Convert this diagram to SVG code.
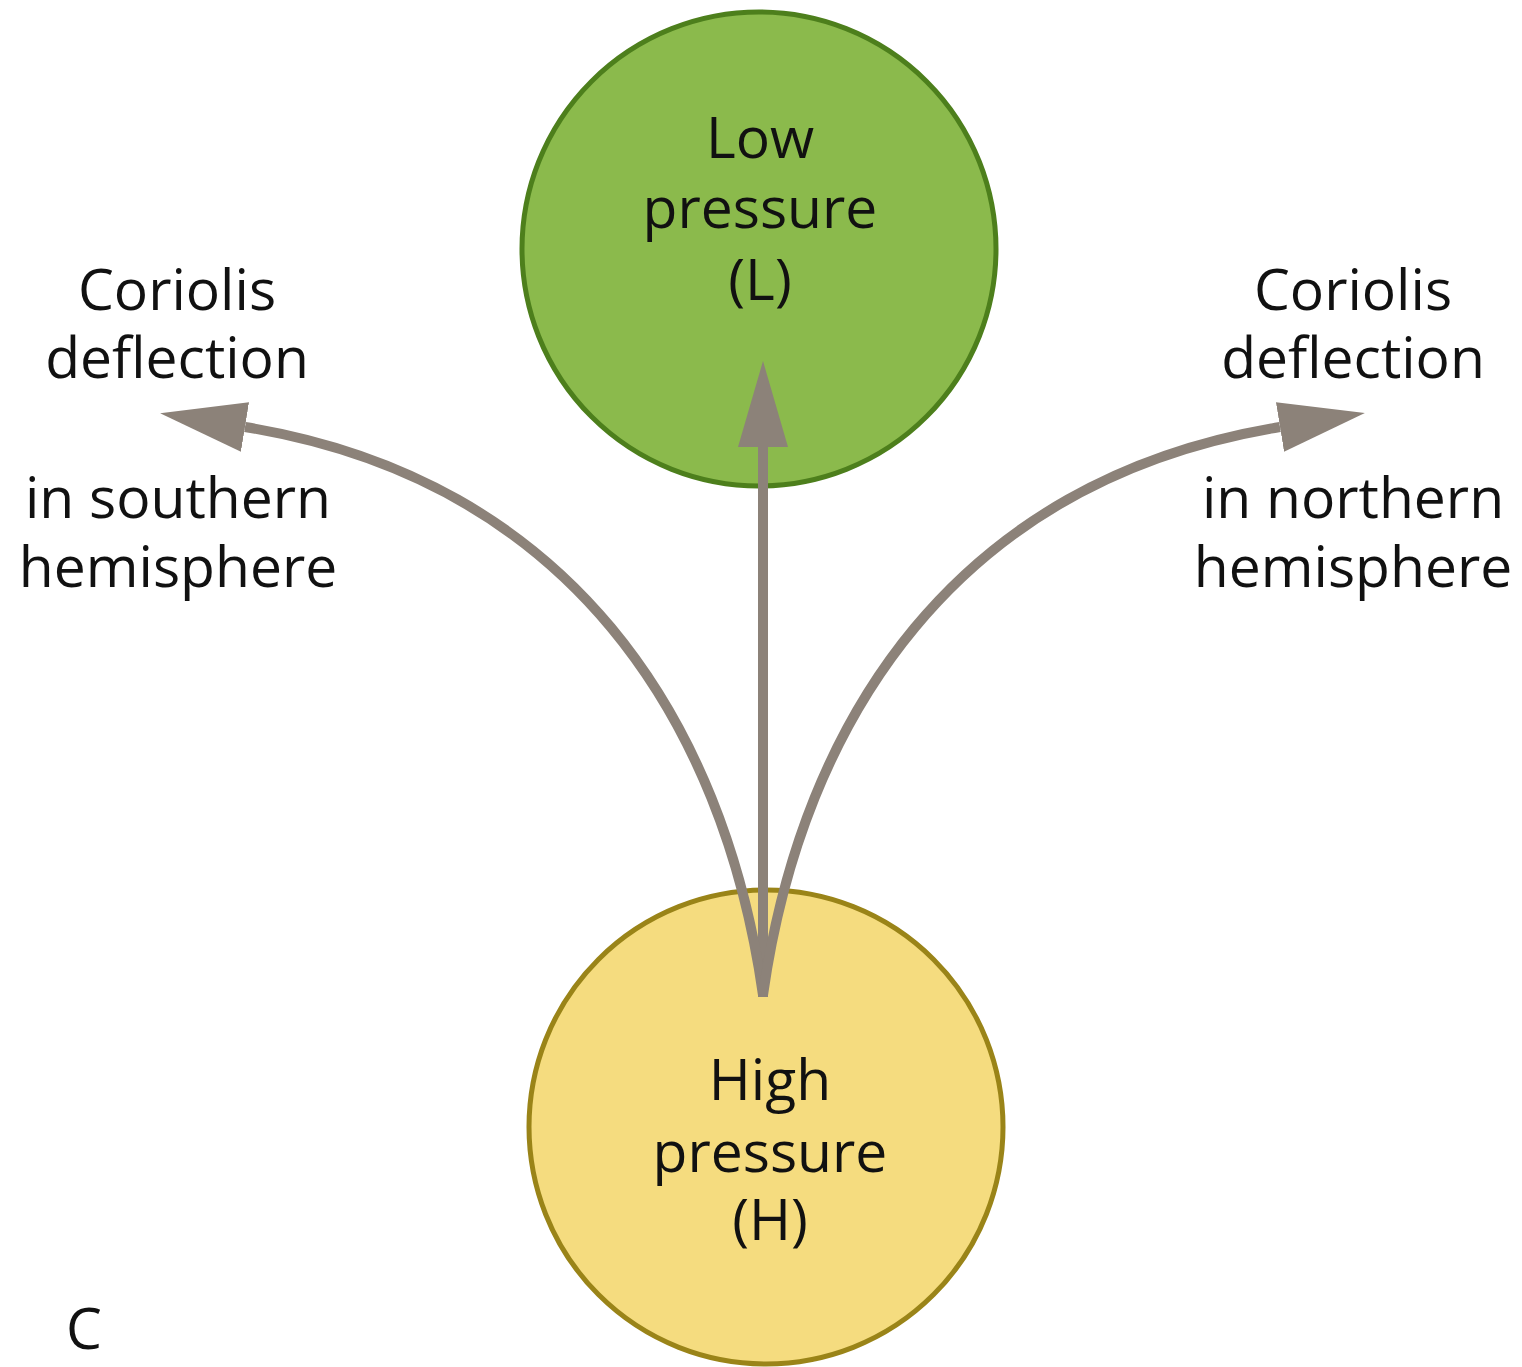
<svg xmlns="http://www.w3.org/2000/svg" width="1522" height="1367" viewBox="0 0 1522 1367">
<style>
  .t { font-family: "Open Sans", "Liberation Sans", sans-serif; font-size: 57px; font-weight: 500; fill: #111; text-anchor: middle; }
  .conn { fill: none; stroke: #8C8279; stroke-width: 10; }
</style>
<defs>
  <marker id="ah" markerUnits="userSpaceOnUse" markerWidth="90" markerHeight="52" refX="0" refY="26" orient="auto" viewBox="0 0 90 52">
    <path d="M0,1 L86,26 L0,51 Z" fill="#8C8279"/>
  </marker>
</defs>
<rect width="1522" height="1367" fill="#fff"/>
<g id="low">
  <circle cx="759" cy="249" r="237" fill="#8BBA4C" stroke="#4D7F1C" stroke-width="5"/>
  <text class="t" x="760" y="158">Low</text>
  <text class="t" x="760" y="228">pressure</text>
  <text class="t" x="760" y="300">(L)</text>
</g>
<g id="high">
  <circle cx="766" cy="1127" r="237" fill="#F5DC7F" stroke="#9A8418" stroke-width="5"/>
  <text class="t" x="770" y="1100">High</text>
  <text class="t" x="770" y="1172">pressure</text>
  <text class="t" x="770" y="1240">(H)</text>
</g>
<g id="left-label">
  <text class="t" x="177" y="310">Coriolis</text>
  <text class="t" x="177" y="378">deflection</text>
  <text class="t" x="178" y="518">in southern</text>
  <text class="t" x="178" y="587">hemisphere</text>
</g>
<g id="right-label">
  <text class="t" x="1353" y="310">Coriolis</text>
  <text class="t" x="1353" y="378">deflection</text>
  <text class="t" x="1353" y="518">in northern</text>
  <text class="t" x="1353" y="587">hemisphere</text>
</g>
<g id="panel-label">
  <text class="t" x="84" y="1349">C</text>
</g>
<g id="connectors">
  <path class="conn" d="M763,997 L763,447" marker-end="url(#ah)"/>
  <path class="conn" d="M763,995 C724,720 570,480 245,427" marker-end="url(#ah)"/>
  <path class="conn" d="M763,995 C802,720 956,480 1280,427" marker-end="url(#ah)"/>
</g>
</svg>
